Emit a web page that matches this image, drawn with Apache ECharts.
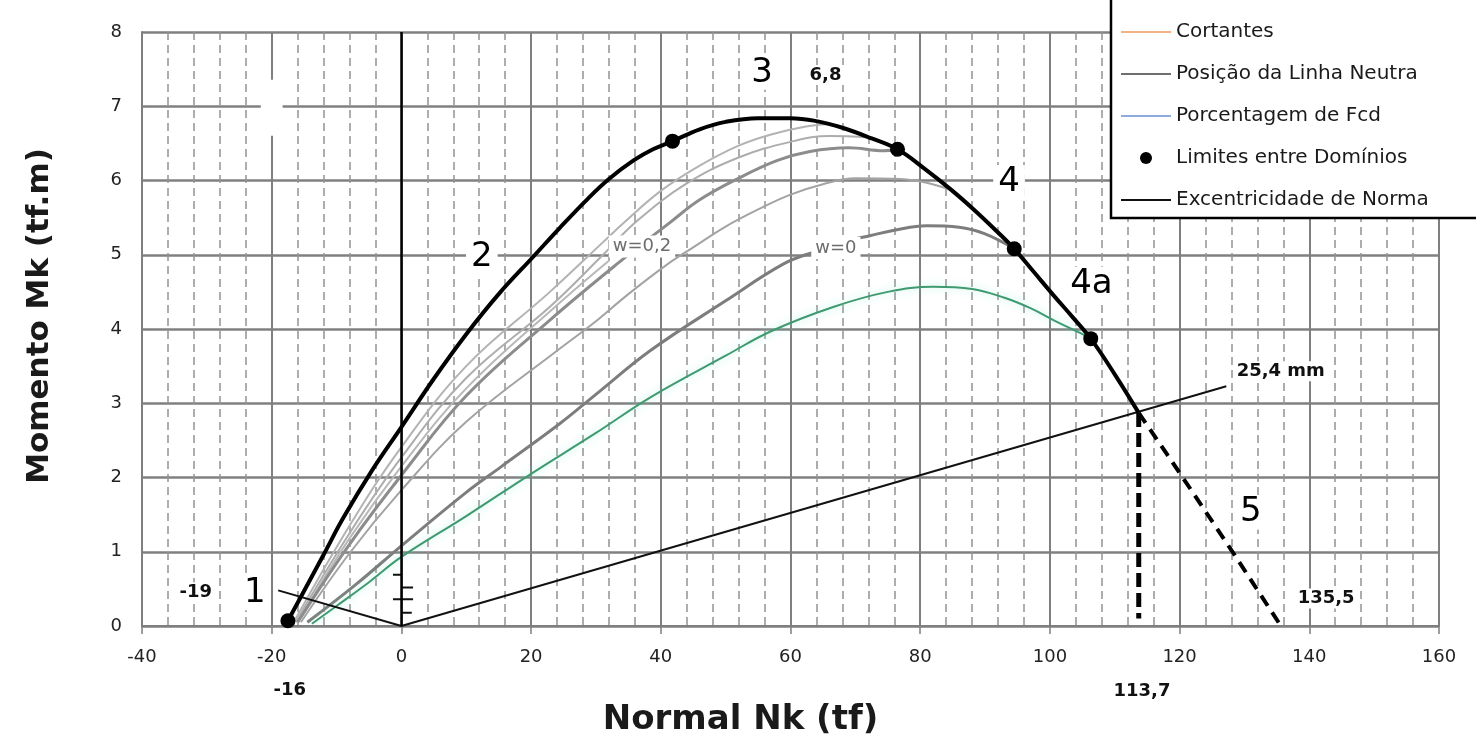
<!DOCTYPE html>
<html>
<head>
<meta charset="utf-8">
<script src="https://cdn.jsdelivr.net/npm/echarts@6/dist/echarts.min.js"></script>
<style>
  html, body { margin: 0; padding: 0; background: #fff; overflow: hidden; }
  #chart { width: 1476px; height: 742px; }
</style>
</head>
<body>
<div id="chart"></div>
<script>
// Diagrama de interação Nk x Mk

const nTicks = [-40, -20, 0, 20, 40, 60, 80, 100, 120, 140, 160];
const mTicks = [0, 1, 2, 3, 4, 5, 6, 7, 8];

// envoltória (domínios 1 a 4a)
const envelope = [
  [-17.5, 0.07], [-15.7, 0.36], [-12, 0.96], [-9, 1.45], [-4.5, 2.1], [0, 2.68],
  [5, 3.33], [10, 3.93], [15, 4.47], [20.4, 4.98], [24.5, 5.37], [28.7, 5.75],
  [32, 6.02], [35.8, 6.27], [38.8, 6.42], [41.8, 6.53], [46, 6.69], [50, 6.79],
  [55, 6.84], [60, 6.84], [64, 6.8], [68, 6.71], [72.4, 6.57], [76.5, 6.42],
  [80.5, 6.17], [84.7, 5.88], [88.5, 5.59], [92, 5.3], [94.5, 5.08], [97.5, 4.77],
  [100.6, 4.45], [103.5, 4.16], [106.3, 3.87], [110, 3.39], [113.7, 2.87]
];
// domínio 5 (tracejado)
const envelopeDom5 = [[113.7, 2.87], [118, 2.32], [122.1, 1.79], [128, 1.02], [135.4, 0.03]];
const limitN113 = [[113.7, 2.87], [113.7, 0.1]];
const domainLimits = [[-17.5, 0.07], [41.8, 6.53], [76.5, 6.42], [94.5, 5.08], [106.3, 3.87]];
const eccentricity = [[-19, 0.48], [0, 0], [127.2, 3.23]];
const eccMarks = [
  [-1.3, 0.69], [0, 0.69], null, [0, 0.52], [1.8, 0.52], null,
  [-1.3, 0.36], [1.8, 0.36], null, [0, 0.18], [1.6, 0.18]
];

// posição da linha neutra (curvas cinzas)
const lnA = [
  [-16.6, 0.05], [-8, 1.35], [0, 2.41], [10, 3.5], [22.9, 4.5], [31.1, 5.17], [34.3, 5.43],
  [40, 5.86], [46, 6.2], [52, 6.47], [57, 6.62], [62, 6.72], [66, 6.76]
];
const lnB = [
  [-16.3, 0.05], [-8, 1.25], [0, 2.27], [10, 3.34], [22.9, 4.3], [31.1, 5.0], [36.4, 5.46],
  [44, 5.96], [52, 6.31], [60, 6.52], [66, 6.6], [72, 6.58]
];
const lnC = [
  [-16, 0.05], [-8, 1.18], [0, 2.15], [10, 3.2], [24.5, 4.36], [32, 4.92]
];
const lnD = [
  [-16, 0.05], [-8, 1.1], [0, 2.03], [10, 3.1], [22.9, 4.12], [33.6, 4.9], [41.5, 5.44],
  [46, 5.74], [52, 6.03], [58, 6.27], [63, 6.39], [69, 6.44], [74.4, 6.4], [76.5, 6.42]
];
const lnE = [
  [-15.5, 0.05], [-8, 0.98], [0, 1.83], [10, 2.75], [24.5, 3.74], [29.5, 4.07], [35, 4.47],
  [41, 4.87], [45, 5.1], [50, 5.38], [55, 5.61], [60, 5.81], [65, 5.95], [70, 6.03],
  [77, 6.02], [81, 5.97], [84.5, 5.88]
];
const lnW0 = [
  [-14.5, 0.05], [-7, 0.56], [0, 1.08], [10, 1.8], [15.3, 2.14], [24.5, 2.73], [30, 3.12],
  [38.4, 3.71], [50, 4.38], [59, 4.88], [64, 5.05], [68, 5.17], [72.4, 5.26], [76, 5.33],
  [81, 5.39], [86, 5.37], [90, 5.28], [94.5, 5.08]
];
// curva verde
const fcdCurve = [
  [-13.8, 0.03], [-10, 0.27], [-5, 0.59], [0, 0.93], [10, 1.48], [20, 2.05], [30, 2.6],
  [38.4, 3.08], [50, 3.64], [57, 3.97], [66.7, 4.3], [75, 4.5], [82, 4.57], [88, 4.54],
  [93, 4.42], [97, 4.28], [101, 4.1], [104.8, 3.94], [106.3, 3.87]
];

// rótulos [N, M, texto]
const domainLabels = [
  [-22.6, 0.44, '1'], [12.4, 4.97, '2'], [55.6, 7.45, '3'],
  [93.7, 5.98, '4'], [106.4, 4.61, '4a'], [131, 1.53, '5']
];
const valueLabels = [
  [-31.7, 0.45, '-19'], [-17.2, -0.87, '-16'], [65.4, 7.42, '6,8'],
  [114.2, -0.88, '113,7'], [142.6, 0.37, '135,5'], [135.6, 3.43, '25,4 mm']
];
const wLabels = [[37.1, 5.11, 'w=0,2'], [67, 5.09, 'w=0']];
const blankBoxes = [[-20, 6.98, ' ']];

const FONT = '"DejaVu Sans", sans-serif';
const lineIcon = 'path://M0,0L60,0L60,2.4L0,2.4Z';

function labelData(arr) {
  return arr.map(function (d) { return { value: [d[0], d[1]], name: d[2] }; });
}
function lineSeries(name, data, color, width, extra) {
  return Object.assign({
    name: name, type: 'line', data: data, showSymbol: false, symbol: 'none',
    smooth: 0.4, silent: true, z: 3,
    itemStyle: { color: color },
    lineStyle: { color: color, width: width }
  }, extra || {});
}
function labelSeries(data, style) {
  return {
    type: 'scatter', data: labelData(data), symbolSize: 0, silent: true, clip: false, z: 20,
    itemStyle: { opacity: 1 },
    label: Object.assign({
      show: true, position: 'inside', formatter: '{b}', fontFamily: FONT,
      backgroundColor: '#fff'
    }, style)
  };
}

const chart = echarts.init(document.getElementById('chart'));

chart.setOption({
  animation: false,
  backgroundColor: '#fff',
  grid: { left: 142, right: 37, top: 32, bottom: 116 },
  legend: {
    data: [
      { name: 'Cortantes', icon: lineIcon },
      { name: 'Posição da Linha Neutra', icon: lineIcon },
      { name: 'Porcentagem de Fcd', icon: lineIcon },
      { name: 'Limites entre Domínios', icon: 'circle' },
      { name: 'Excentricidade de Norma', icon: lineIcon }
    ],
    orient: 'vertical', left: 1110, top: -30, z: 8,
    itemWidth: 50, itemHeight: 12, itemGap: 22,
    padding: [52, 10, 10, 11],
    borderWidth: 0, backgroundColor: 'transparent',
    itemStyle: { borderWidth: 0 },
    selectedMode: false,
    textStyle: { fontFamily: FONT, fontSize: 20, color: '#1a1a1a' }
  },
  // caixa da legenda (aberta à direita: o original é cortado nessa borda)
  graphic: [
    {
      type: 'rect', z: 7, silent: true,
      shape: { x: 1111, y: -10, width: 430, height: 228 },
      style: { fill: '#fff', stroke: null, lineWidth: 0 }
    },
    {
      type: 'polyline', z: 9, silent: true,
      shape: { points: [[1540, -10], [1111, -10], [1111, 218], [1540, 218]] },
      style: { fill: null, stroke: '#000', lineWidth: 2.5 }
    }
  ],
  xAxis: {
    type: 'value',
    min: nTicks[0], max: nTicks[nTicks.length - 1], interval: nTicks[1] - nTicks[0],
    name: 'Normal Nk (tf)', nameLocation: 'middle', nameGap: 77,
    nameTextStyle: {
      fontFamily: FONT, fontSize: 34, fontWeight: 'bold',
      color: '#1a1a1a', padding: [0, 100, 0, 0]
    },
    axisLine: { onZero: false, lineStyle: { color: '#7f7f7f', width: 2 } },
    axisTick: { show: true, length: 8, lineStyle: { color: '#7f7f7f', width: 1.5 } },
    axisLabel: { fontFamily: FONT, fontSize: 18, color: '#222', margin: 22 },
    splitLine: { show: true, lineStyle: { color: '#7f7f7f', width: 2 } },
    minorTick: { show: false, splitNumber: 5 },
    minorSplitLine: { show: true, lineStyle: { color: '#939393', width: 1.5, type: [8, 5] } }
  },
  yAxis: {
    type: 'value',
    min: mTicks[0], max: mTicks[mTicks.length - 1], interval: mTicks[1] - mTicks[0],
    name: 'Momento Mk (tf.m)', nameLocation: 'middle', nameGap: 87,
    nameTextStyle: {
      fontFamily: FONT, fontSize: 31, fontWeight: 'bold',
      color: '#1a1a1a', padding: [0, 0, 0, 26]
    },
    axisLine: { show: true, onZero: false, lineStyle: { color: '#7f7f7f', width: 2 } },
    axisTick: { show: true, inside: true, length: 5, lineStyle: { color: '#7f7f7f' } },
    axisLabel: { fontFamily: FONT, fontSize: 18, color: '#222', margin: 20 },
    splitLine: { show: true, lineStyle: { color: '#808080', width: 2.5 } }
  },
  series: [
    lineSeries('Cortantes', [], '#f4b183', 2),
    lineSeries('Posição da Linha Neutra', [], '#6f6f6f', 2),
    lineSeries('Porcentagem de Fcd', [], '#8faadc', 2),
    lineSeries('lnA', lnA, '#b3b3b3', 2),
    lineSeries('lnB', lnB, '#adadad', 2),
    lineSeries('lnC', lnC, '#b8b8b8', 2),
    lineSeries('lnD', lnD, '#8c8c8c', 3),
    lineSeries('lnE', lnE, '#a3a3a3', 2),
    lineSeries('lnW0', lnW0, '#7d7d7d', 3),
    lineSeries('fcd', fcdCurve, '#3f9a70', 2, {
      lineStyle: { color: '#3f9a70', width: 2, shadowColor: 'rgba(120,235,205,0.6)', shadowBlur: 9 }
    }),
    lineSeries('Excentricidade de Norma', eccentricity, '#111', 2, {
      smooth: false, z: 4,
      markLine: {
        silent: true, symbol: ['none', 'none'], label: { show: false },
        lineStyle: { color: '#000', width: 2.5, type: 'solid' },
        data: [{ xAxis: 0 }]
      }
    }),
    lineSeries('eccMarks', eccMarks, '#111', 2, { smooth: false, z: 4 }),
    lineSeries('envoltoria', envelope, '#000', 4, { z: 5 }),
    lineSeries('dom5', envelopeDom5, '#000', 4, {
      smooth: false, z: 5, lineStyle: { color: '#000', width: 4, type: [12, 8] }
    }),
    lineSeries('limite', limitN113, '#000', 5, {
      smooth: false, z: 5, lineStyle: { color: '#000', width: 5, type: [14, 6] }
    }),
    {
      name: 'Limites entre Domínios', type: 'scatter', data: domainLimits,
      symbolSize: 15, itemStyle: { color: '#000', opacity: 1 }, silent: true, z: 6
    },
    labelSeries(blankBoxes, { padding: [22, 9] }),
    labelSeries(domainLabels, { fontSize: 34, color: '#000', padding: [0, 5] }),
    labelSeries(valueLabels, { fontSize: 18, fontWeight: 'bold', color: '#111', padding: [1, 3] }),
    labelSeries(wLabels, { fontSize: 18, color: '#6d6d6d', padding: [2, 4] })
  ]
});
</script>
</body>
</html>
